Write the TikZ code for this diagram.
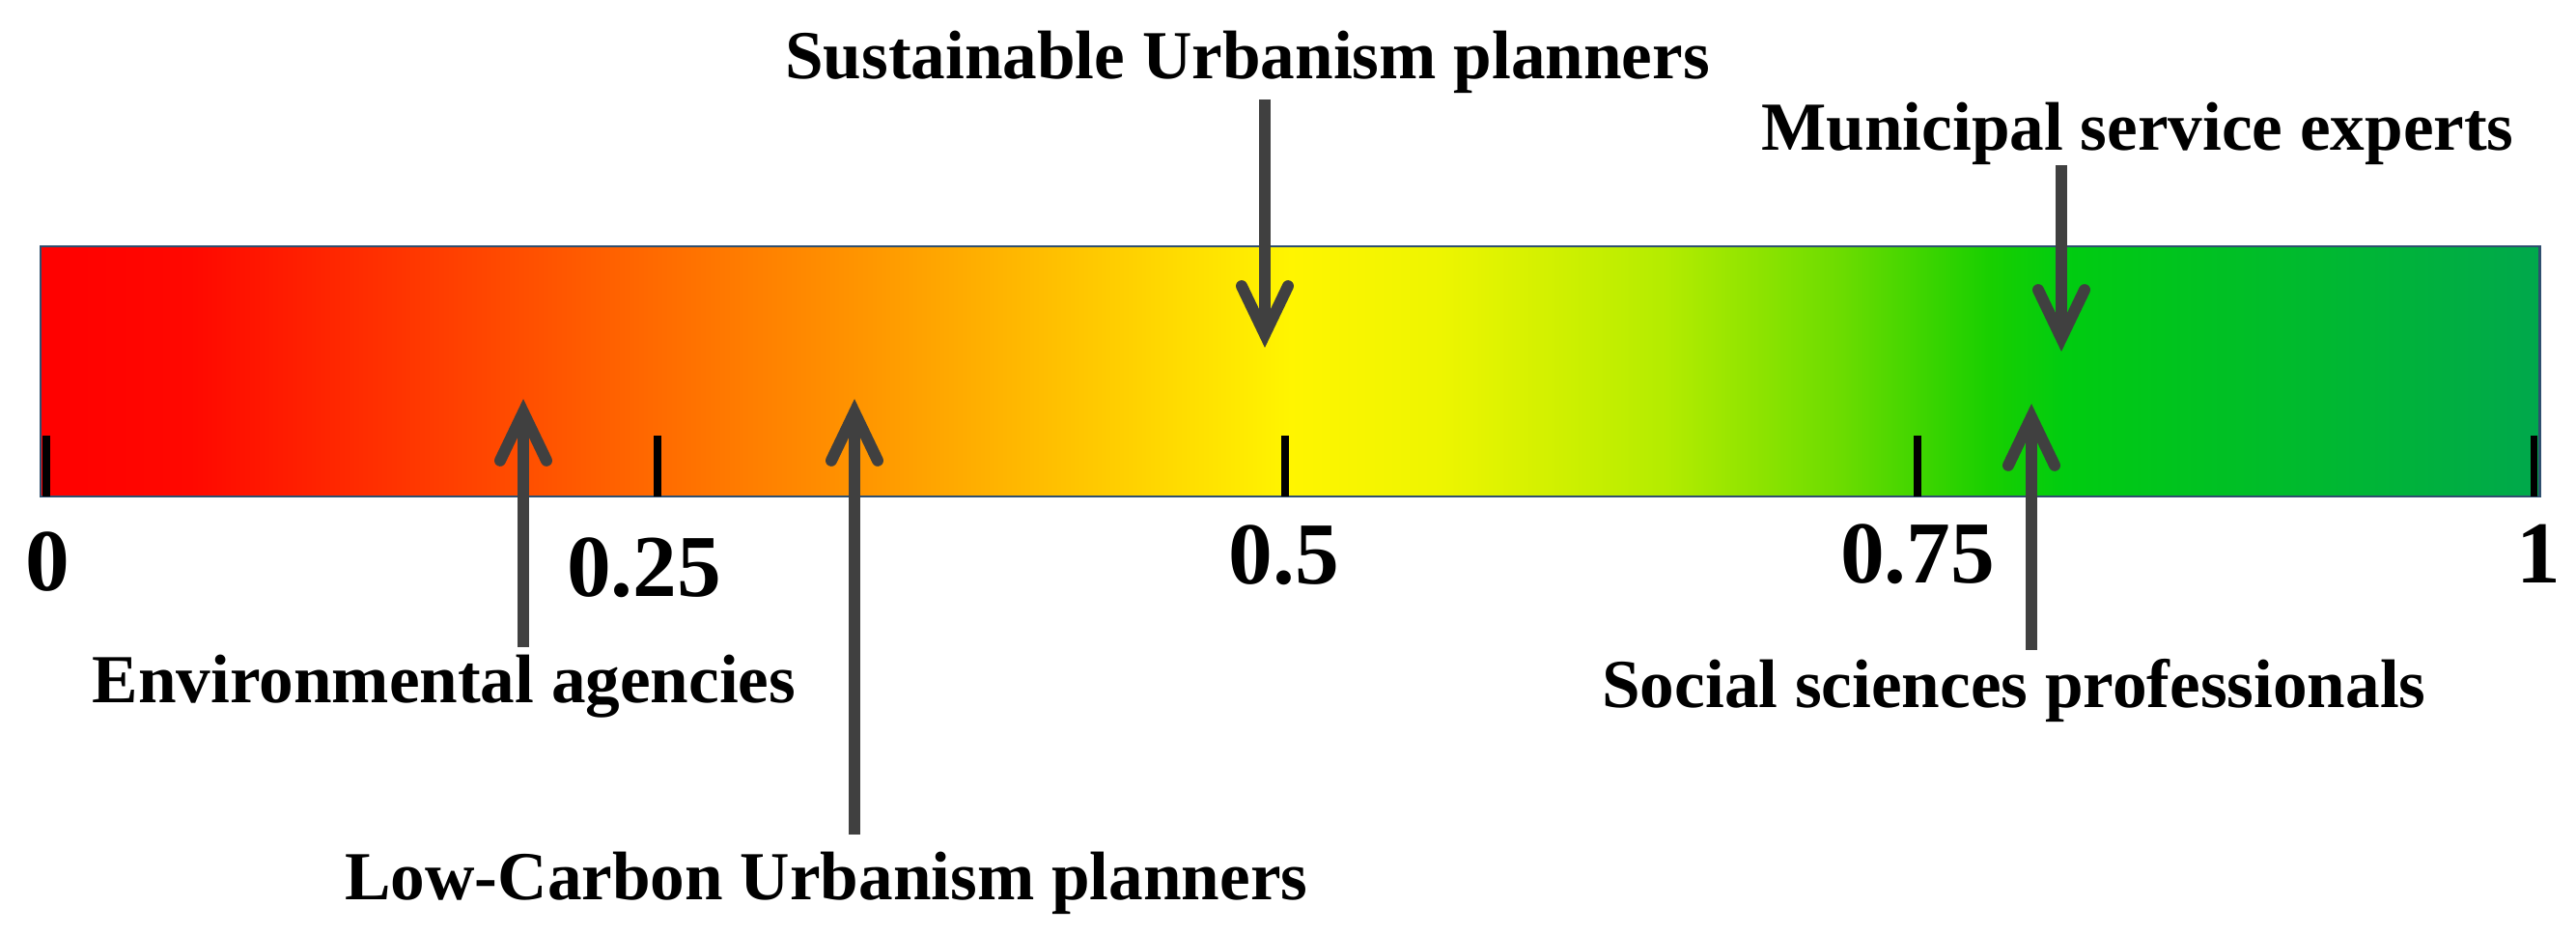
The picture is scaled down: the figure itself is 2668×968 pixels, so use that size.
\documentclass[tikz,border=0pt]{standalone}
\usepackage{fontspec}
\setmainfont{Liberation Serif}
\usetikzlibrary{arrows.meta}
\definecolor{arrowgray}{HTML}{404040}
\definecolor{barline}{HTML}{2F4F6F}
\definecolor{sa}{HTML}{FF0000}
\definecolor{sb}{HTML}{FF0800}
\definecolor{sc}{HTML}{FF5200}
\definecolor{sd}{HTML}{FF9600}
\definecolor{se}{HTML}{FFC800}
\definecolor{sf}{HTML}{FFF500}
\definecolor{sg}{HTML}{EEF500}
\definecolor{sh}{HTML}{B4EC00}
\definecolor{si}{HTML}{6CDC00}
\definecolor{sj}{HTML}{18CF00}
\definecolor{sk}{HTML}{00CC10}
\definecolor{sl}{HTML}{00A84C}
\pgfdeclarehorizontalshading{barshade}{100bp}{color(0bp)=(sa); color(25bp)=(sa); color(28bp)=(sb); color(35bp)=(sc); color(41.5bp)=(sd); color(46bp)=(se); color(50bp)=(sf); color(53bp)=(sg); color(57.5bp)=(sh); color(61bp)=(si); color(64bp)=(sj); color(65.5bp)=(sk); color(75bp)=(sl); color(100bp)=(sl)}
\begin{document}
\begin{tikzpicture}[x=0.01cm,y=-0.01cm,
  lab/.style={font=\fontsize{20.25pt}{24pt}\selectfont\bfseries, inner sep=0pt, anchor=base},
  num/.style={font=\fontsize{26pt}{30pt}\selectfont\bfseries, inner sep=0pt, anchor=base},
  ptr/.style={draw=arrowgray, line width=3.4pt, -{Straight Barb[length=0.5cm,width=0.48cm,line cap=round,line join=miter]}},
  tickmark/.style={draw=black, line width=2pt}]
\useasboundingbox (0,0) rectangle (2668,968);
% bar
\node (bar) [draw=barline, line width=0.6pt, shade, shading=barshade, anchor=north west,
  minimum width=25.87cm, minimum height=2.59cm, inner sep=0pt, outer sep=0pt] at (42,255) {};
% ticks
\draw[tickmark] (48,451) -- (48,514);
\draw[tickmark] (681,451) -- (681,514);
\draw[tickmark] (1331,451) -- (1331,514);
\draw[tickmark] (1986,451) -- (1986,514);
\draw[tickmark] (2624,451) -- (2624,514);
% numbers
\node[num] (n0) at (49,612) {0};
\node[num] (n25) at (667,618) {0.25};
\node[num] (n50) at (1330,605) {0.5};
\node[num] (n75) at (1986,604) {0.75};
\node[num] (n100) at (2629,604) {1};
% labels
\node[lab] (su) at (1292,82) {Sustainable Urbanism planners};
\node[lab] (me) at (2214,156) {Municipal service experts};
\node[lab] (ea) at (460,728) {Environmental agencies};
\node[lab] (lc) at (856,932) {Low-Carbon Urbanism planners};
\node[lab] (ss) at (2086,733) {Social sciences professionals};
% arrow ends
\coordinate (suT) at (1310,103); \coordinate (suH) at (1310,360);
\coordinate (meT) at (2135,171); \coordinate (meH) at (2135,364);
\coordinate (eaT) at (542,670);  \coordinate (eaH) at (542,413);
\coordinate (lcT) at (885,864);  \coordinate (lcH) at (885,413);
\coordinate (ssT) at (2104,673); \coordinate (ssH) at (2104,418);
\draw[ptr] (suT) -- (suH);
\draw[ptr] (meT) -- (meH);
\draw[ptr] (eaT) -- (eaH);
\draw[ptr] (lcT) -- (lcH);
\draw[ptr] (ssT) -- (ssH);
\end{tikzpicture}
\end{document}
